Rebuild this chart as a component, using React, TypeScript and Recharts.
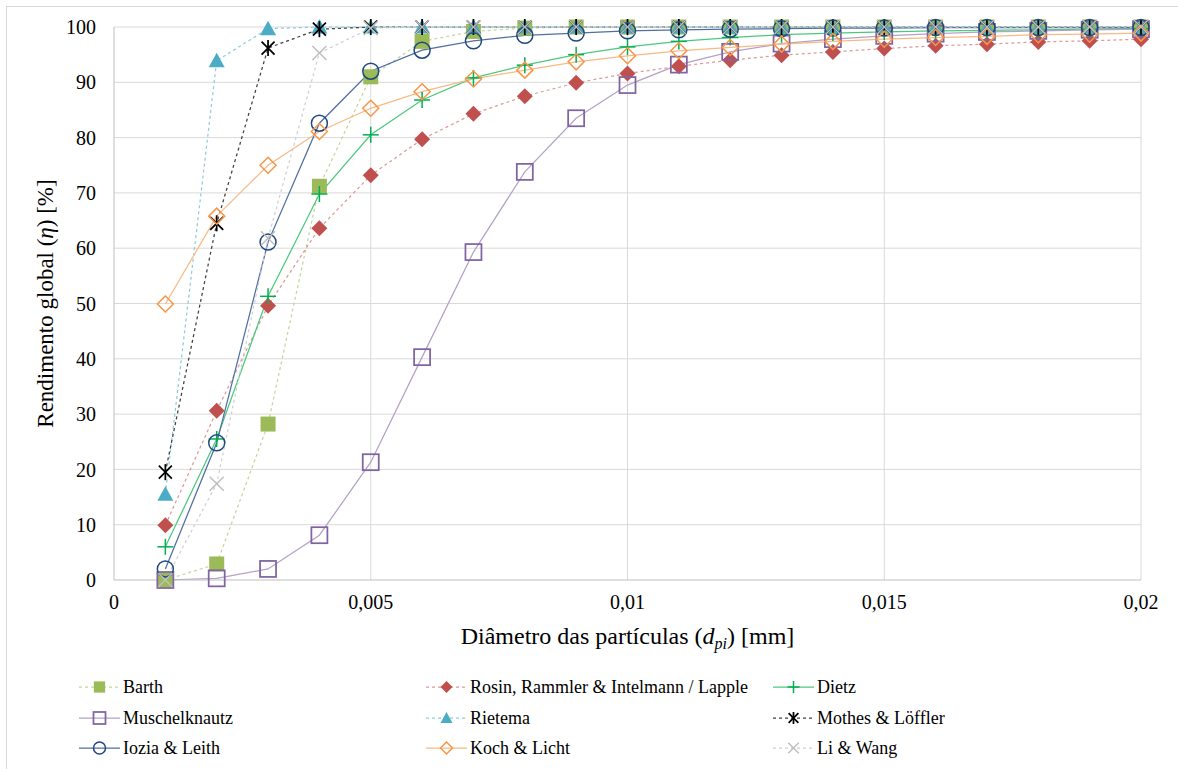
import React from 'react';
import { LineChart, Line, XAxis, YAxis, ReferenceLine, Legend } from 'recharts';

const diameters = [0.001, 0.002, 0.003, 0.004, 0.005, 0.006, 0.007, 0.008, 0.009, 0.01,
  0.011, 0.012, 0.013, 0.014, 0.015, 0.016, 0.017, 0.018, 0.019, 0.02];

const barth = [0, 2.9, 28.2, 71.2, 91.0, 97.4, 99.2, 99.8, 100, 100, 100, 100, 100, 100, 100, 100, 100, 100, 100, 100];
const rosin = [9.9, 30.6, 49.6, 63.6, 73.2, 79.7, 84.3, 87.5, 89.9, 91.6, 92.9, 94.0, 94.9, 95.5, 96.1, 96.6, 96.9, 97.3, 97.5, 97.8];
const dietz = [6.0, 25.5, 51.3, 69.8, 80.5, 86.8, 90.8, 93.1, 95.0, 96.4, 97.4, 98.1, 98.6, 98.9, 99.1, 99.3, 99.4, 99.5, 99.6, 99.7];
const muschelknautz = [0, 0.3, 2.0, 8.1, 21.3, 40.3, 59.3, 73.8, 83.5, 89.5, 93.2, 95.5, 97.0, 97.8, 98.4, 98.8, 99.1, 99.3, 99.5, 99.6];
const rietema = [15.5, 93.9, 99.7, 100, 100, 100, 100, 100, 100, 100, 100, 100, 100, 100, 100, 100, 100, 100, 100, 100];
const mothes = [19.5, 64.5, 96.2, 99.6, 100, 100, 100, 100, 100, 100, 100, 100, 100, 100, 100, 100, 100, 100, 100, 100];
const iozia = [2.0, 24.8, 61.1, 82.6, 92.0, 95.8, 97.5, 98.5, 98.9, 99.3, 99.5, 99.6, 99.7, 99.8, 99.8, 99.9, 99.9, 99.9, 99.9, 99.9];
const koch = [49.9, 65.8, 75.0, 81.1, 85.3, 88.3, 90.6, 92.2, 93.7, 94.8, 95.7, 96.3, 96.9, 97.4, 97.8, 98.1, 98.3, 98.6, 98.7, 98.9];
const liWang = [0, 17.4, 61.8, 95.3, 99.8, 100, 100, 100, 100, 100, 100, 100, 100, 100, 100, 100, 100, 100, 100, 100];

const xMajorTicks = [0, 0.005, 0.01, 0.015, 0.02];
const xMinorTicks = [0, 0.001, 0.002, 0.003, 0.004, 0.005, 0.006, 0.007, 0.008, 0.009, 0.01,
  0.011, 0.012, 0.013, 0.014, 0.015, 0.016, 0.017, 0.018, 0.019, 0.02];
const yMajorTicks = [0, 10, 20, 30, 40, 50, 60, 70, 80, 90, 100];
const yMinorTicks = [0, 2, 4, 6, 8, 10, 12, 14, 16, 18, 20, 22, 24, 26, 28, 30, 32, 34, 36, 38, 40,
  42, 44, 46, 48, 50, 52, 54, 56, 58, 60, 62, 64, 66, 68, 70, 72, 74, 76, 78, 80,
  82, 84, 86, 88, 90, 92, 94, 96, 98, 100];

type Marker = 'square' | 'diamond' | 'plus' | 'hollowSquare' | 'triangle' | 'star' | 'circle' | 'hollowDiamond' | 'cross';

interface Series {
  key: string;
  name: string;
  values: number[];
  marker: Marker;
  color: string;
  lineColor: string;
  dashed: boolean;
}

const series: Series[] = [
  { key: 'barth', name: 'Barth', values: barth, marker: 'square', color: '#9bbb59', lineColor: '#c3d69b', dashed: true },
  { key: 'rosin', name: 'Rosin, Rammler & Intelmann / Lapple', values: rosin, marker: 'diamond', color: '#c0504d', lineColor: '#dc9a98', dashed: true },
  { key: 'dietz', name: 'Dietz', values: dietz, marker: 'plus', color: '#00b050', lineColor: '#4cc97f', dashed: false },
  { key: 'musch', name: 'Muschelknautz', values: muschelknautz, marker: 'hollowSquare', color: '#8064a2', lineColor: '#b3a2c7', dashed: false },
  { key: 'rietema', name: 'Rietema', values: rietema, marker: 'triangle', color: '#4bacc6', lineColor: '#8fcbdc', dashed: true },
  { key: 'mothes', name: 'Mothes & Löffler', values: mothes, marker: 'star', color: '#000000', lineColor: '#404040', dashed: true },
  { key: 'iozia', name: 'Iozia & Leith', values: iozia, marker: 'circle', color: '#1f497d', lineColor: '#4f6fa3', dashed: false },
  { key: 'koch', name: 'Koch & Licht', values: koch, marker: 'hollowDiamond', color: '#f79646', lineColor: '#f9b984', dashed: false },
  { key: 'li', name: 'Li & Wang', values: liWang, marker: 'cross', color: '#bfbfbf', lineColor: '#d0d0d0', dashed: true },
];

const data = diameters.map((d, i) => {
  const row: Record<string, number> = { d };
  series.forEach(s => { row[s.key] = s.values[i]; });
  return row;
});

const FONT = "'Liberation Serif', 'Times New Roman', Tinos, Times, 'DejaVu Serif', serif";

function drawMarker(kind: Marker, color: string, cx: number, cy: number, scale = 1, key?: string | number) {
  const h = 8 * scale;
  switch (kind) {
    case 'square':
      return <rect key={key} x={cx - 7.5 * scale} y={cy - 7.5 * scale} width={15 * scale} height={15 * scale} fill={color} />;
    case 'hollowSquare':
      return <rect key={key} x={cx - h} y={cy - h} width={2 * h} height={2 * h} fill="none" stroke={color} strokeWidth={1.75} />;
    case 'diamond':
      return <polygon key={key} points={`${cx},${cy - h} ${cx + h},${cy} ${cx},${cy + h} ${cx - h},${cy}`} fill={color} />;
    case 'hollowDiamond':
      return <polygon key={key} points={`${cx},${cy - h} ${cx + h},${cy} ${cx},${cy + h} ${cx - h},${cy}`} fill="none" stroke={color} strokeWidth={1.5} />;
    case 'plus':
      return (
        <g key={key} stroke={color} strokeWidth={1.5}>
          <line x1={cx - h} y1={cy} x2={cx + h} y2={cy} />
          <line x1={cx} y1={cy - h} x2={cx} y2={cy + h} />
        </g>
      );
    case 'triangle':
      return <polygon key={key} points={`${cx},${cy - h} ${cx + h},${cy + 6.5 * scale} ${cx - h},${cy + 6.5 * scale}`} fill={color} />;
    case 'star': {
      const a = 6.5 * scale;
      return (
        <g key={key} stroke={color} strokeWidth={1.75}>
          <line x1={cx} y1={cy - h} x2={cx} y2={cy + h} />
          <line x1={cx - a} y1={cy - a} x2={cx + a} y2={cy + a} />
          <line x1={cx - a} y1={cy + a} x2={cx + a} y2={cy - a} />
        </g>
      );
    }
    case 'circle':
      return <circle key={key} cx={cx} cy={cy} r={h} fill="none" stroke={color} strokeWidth={1.5} />;
    case 'cross': {
      const a = 7 * scale;
      return (
        <g key={key} stroke={color} strokeWidth={1.5}>
          <line x1={cx - a} y1={cy - a} x2={cx + a} y2={cy + a} />
          <line x1={cx - a} y1={cy + a} x2={cx + a} y2={cy - a} />
        </g>
      );
    }
  }
}

const formatX = (v: number) => String(Math.round(v * 1000) / 1000).replace('.', ',');

const legendCols = [79, 426, 773];
const legendRows = [17, 48, 78];

const renderLegend = () => (
  <div style={{ position: 'relative', width: 1178, height: 95, fontFamily: FONT, fontSize: 18, color: '#000' }}>
    {series.map((s, i) => {
      const left = legendCols[i % 3];
      const top = legendRows[Math.floor(i / 3)];
      return (
        <div key={s.key} style={{ position: 'absolute', left, top: top - 11, height: 22, display: 'flex', alignItems: 'center', whiteSpace: 'nowrap' }}>
          <svg width={42} height={22} style={{ marginRight: 2 }}>
            <line x1={0} y1={11} x2={41} y2={11} stroke={s.lineColor} strokeWidth={1.25} strokeDasharray={s.dashed ? '3 3' : undefined} />
            {drawMarker(s.marker, s.color, 20.5, 11, 0.75)}
          </svg>
          <span>{s.name}</span>
        </div>
      );
    })}
  </div>
);

const YTitle = ({ viewBox }: any) => {
  const x = 53;
  const y = viewBox.y + viewBox.height / 2;
  return (
    <text x={x} y={y} transform={`rotate(-90, ${x}, ${y})`} textAnchor="middle" style={{ fontFamily: FONT }} fontSize={23} fill="#000">
      Rendimento global (<tspan fontStyle="italic">η</tspan>) [%]
    </text>
  );
};

const XTitle = ({ viewBox }: any) => {
  const x = viewBox.x + viewBox.width / 2;
  const y = viewBox.y + 64;
  return (
    <text x={x} y={y} textAnchor="middle" style={{ fontFamily: FONT }} fontSize={24} fill="#000">
      Diâmetro das partículas (<tspan fontStyle="italic">d</tspan>
      <tspan fontStyle="italic" fontSize={16} dy={5}>pi</tspan>
      <tspan dy={-5}>) [mm]</tspan>
    </text>
  );
};

export default function App() {
  return (
    <div style={{ position: 'absolute', left: 0, top: 0, width: 1178, height: 769, background: '#fff', overflow: 'hidden', fontFamily: FONT }}>
      <div style={{ position: 'absolute', left: 6, top: 6, width: 1200, height: 800, border: '1px solid #d9d9d9' }} />
      <LineChart width={1178} height={769} data={data} margin={{ top: 27, right: 37, left: 34, bottom: 34 }} style={{ fontFamily: FONT }}>
        <XAxis
          dataKey="d"
          type="number"
          domain={[0, 0.02]}
          ticks={xMajorTicks}
          interval={0}
          tickFormatter={formatX}
          tickLine={false}
          tickSize={0}
          tickMargin={15}
          axisLine={{ stroke: '#bfbfbf' }}
          tick={{ fontFamily: FONT, fontSize: 20, fill: '#000' }}
          height={60}
          label={<XTitle />}
        />
        <XAxis
          xAxisId="minor"
          dataKey="d"
          type="number"
          domain={[0, 0.02]}
          ticks={xMinorTicks}
          interval={0}
          mirror
          height={0}
          tick={false}
          tickSize={5}
          tickLine={{ stroke: '#bfbfbf' }}
          axisLine={false}
        />
        <YAxis
          type="number"
          domain={[0, 100]}
          ticks={yMajorTicks}
          interval={0}
          tickLine={false}
          tickSize={0}
          tickMargin={18}
          axisLine={{ stroke: '#bfbfbf' }}
          tick={{ fontFamily: FONT, fontSize: 20, fill: '#000' }}
          width={80}
          label={<YTitle />}
        />
        <YAxis
          yAxisId="minor"
          type="number"
          domain={[0, 100]}
          ticks={yMinorTicks}
          interval={0}
          mirror
          width={0}
          tick={false}
          tickSize={5}
          tickLine={{ stroke: '#bfbfbf' }}
          axisLine={false}
        />
        {yMajorTicks.filter(v => v > 0).map(v => (
          <ReferenceLine key={`y${v}`} y={v} stroke="#d9d9d9" strokeWidth={1} />
        ))}
        {xMajorTicks.filter(v => v > 0).map(v => (
          <ReferenceLine key={`x${v}`} x={v} stroke="#d9d9d9" strokeWidth={1} />
        ))}
        <Legend
          verticalAlign="bottom"
          content={renderLegend}
          wrapperStyle={{ left: 0, top: 670, width: 1178, height: 95 }}
        />
        {series.map(s => (
          <Line
            key={s.key}
            dataKey={s.key}
            name={s.name}
            type="linear"
            stroke={s.lineColor}
            strokeWidth={1.25}
            strokeDasharray={s.dashed ? '3 3' : undefined}
            isAnimationActive={false}
            dot={(p: any) => drawMarker(s.marker, s.color, p.cx, p.cy, 1, `${s.key}-${p.index}`)}
            activeDot={false}
          />
        ))}
      </LineChart>
    </div>
  );
}
